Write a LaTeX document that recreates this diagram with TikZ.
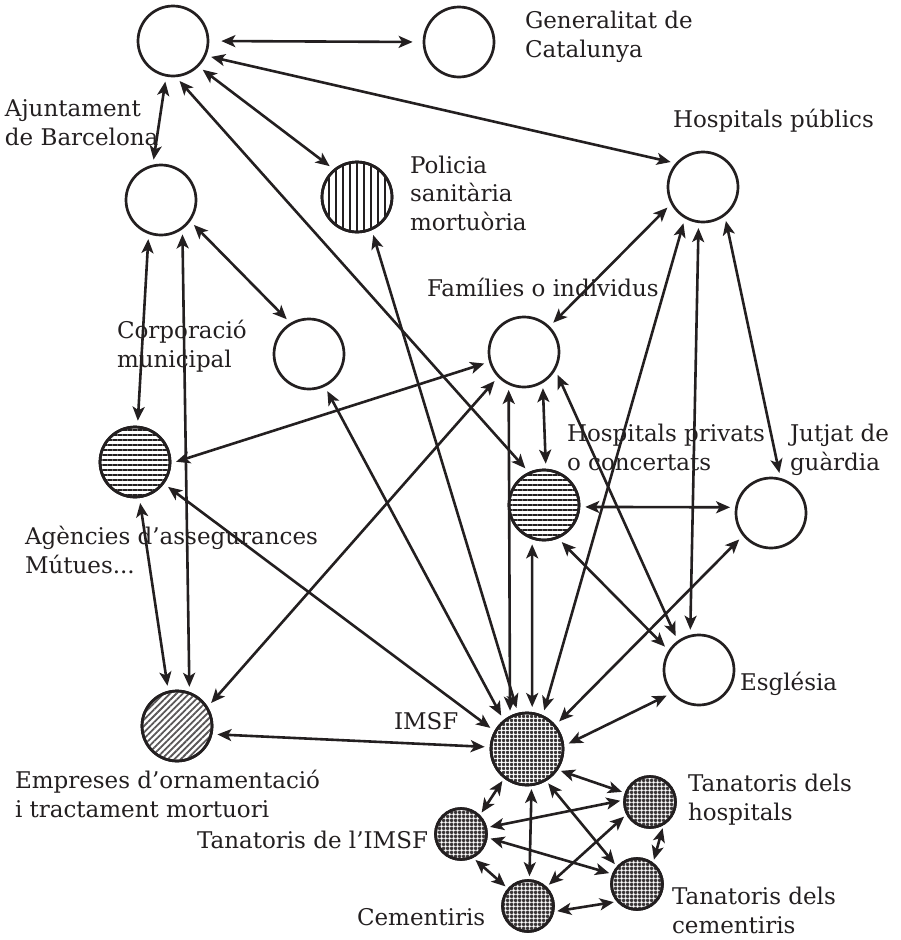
\documentclass[tikz,border=0pt]{standalone}
\usepackage{fontspec}
\setmainfont{DejaVu Serif}
\usetikzlibrary{arrows.meta,patterns.meta}
\definecolor{ink}{RGB}{35,31,32}
\begin{document}
\begin{tikzpicture}[x=1pt,y=-1pt,
  ent/.style={circle,draw=ink,line width=2.7pt,minimum size=70pt,inner sep=0pt,fill=white},
  sm/.style={ent,minimum size=51pt},
  vstr/.style={pattern={Lines[angle=90,distance=7pt,line width=2pt]},pattern color=ink},
  hstr/.style={pattern={Lines[angle=0,distance=5pt,line width=2.6pt]},pattern color=ink},
  dstr/.style={pattern={Lines[angle=45,distance=4.5pt,line width=1.8pt]},pattern color=ink!75},
  grid/.style={pattern={Hatch[angle=0,distance=4pt,line width=2.6pt]},pattern color=ink!90},
  lbl/.style={anchor=base west,inner sep=0pt,outer sep=0pt,align=left,
    font=\fontsize{23}{28.5}\selectfont,text=ink},
  rel/.style={<->,draw=ink,line width=2.6pt,shorten <=5pt,shorten >=5pt},
  srel/.style={rel,shorten <=3pt,shorten >=3pt},
  >={Stealth[length=14pt,width=12pt,inset=3.5pt]}
]
\useasboundingbox (0,0) rectangle (901,940);
% circles
\node[ent] (A) at (173,41) {};
\node[ent] (B) at (459,42) {};
\node[ent] (C) at (161,200) {};
\node[ent] (D) at (357,197) {};
\path[vstr] (D.center) circle[radius=35pt];
\node[ent] (E) at (703,187) {};
\node[ent] (F) at (309,354) {};
\node[ent] (G) at (524,352) {};
\node[ent] (H) at (135,462) {};
\path[hstr] (H.center) circle[radius=35pt];
\node[ent] (I) at (544,505) {};
\path[hstr] (I.center) circle[radius=35pt];
\node[ent] (J) at (771,513) {};
\node[ent] (K) at (699,670) {};
\node[ent] (L) at (177,726) {};
\path[dstr] (L.center) circle[radius=35pt];
\node[ent,minimum size=72pt] (M) at (527,749) {};
\path[grid] (M.center) circle[radius=36pt];
\node[sm] (N) at (650,802) {};
\path[grid] (N.center) circle[radius=25.5pt];
\node[sm] (O) at (461,834) {};
\path[grid] (O.center) circle[radius=25.5pt];
\node[sm] (P) at (528,906) {};
\path[grid] (P.center) circle[radius=25.5pt];
\node[sm] (Q) at (637,884) {};
\path[grid] (Q.center) circle[radius=25.5pt];
% redraw outlines over patterns
\foreach \n in {D,H,I,L}{\draw[ink,line width=2.7pt] (\n.center) circle[radius=35pt];}
\draw[ink,line width=2.7pt] (M.center) circle[radius=36pt];
\foreach \n in {N,O,P,Q}{\draw[ink,line width=2.7pt] (\n.center) circle[radius=25.5pt];}
% labels (anchor = baseline of the last line)
\node[lbl] (tB) at (525,57) {Generalitat de\\Catalunya};
\node[lbl] (tC) at (5,145) {Ajuntament\\de Barcelona};
\node[lbl] (tE) at (673,127) {Hospitals públics};
\node[lbl] (tD) at (410,230) {Policia\\sanitària\\mortuòria};
\node[lbl] (tG) at (427,296) {Famílies o individus};
\node[lbl] (tF) at (117,367) {Corporació\\municipal};
\node[lbl] (tI) at (567,470) {Hospitals privats\\o concertats};
\node[lbl] (tJ) at (790,470) {Jutjat de\\guàrdia};
\node[lbl] (tH) at (25,573) {Agències d’assegurances\\Mútues...};
\node[lbl] (tK) at (740,690) {Església};
\node[lbl] (tM) at (394,729) {IMSF};
\node[lbl] (tL) at (15,817) {Empreses d’ornamentació\\i tractament mortuori};
\node[lbl] (tN) at (688,820) {Tanatoris dels\\hospitals};
\node[lbl] (tO) at (197,848) {Tanatoris de l’IMSF};
\node[lbl] (tQ) at (672,933) {Tanatoris dels\\cementiris};
\node[lbl] (tP) at (357,925) {Cementiris};
% connectors
\draw[rel,shorten <=12pt,shorten >=10pt] (A.0) -- (B.180);
\draw[rel] (A.-24) -- (E.139);
\draw[rel] (A.-101) -- (C.103);
\draw[rel] (A.-45) -- (D.130);
\draw[rel] (A.-85) -- (I.115);
\draw[rel] (C.-110) -- (H.86);
\draw[rel] (C.-54) -- (L.70);
\draw[rel] (C.-36) -- (F.121);
\draw[rel] (H.-83) -- (L.104);
\draw[rel] (H.-2) -- (G.-164);
\draw[rel] (H.-37) -- (M.151);
\draw[rel] (F.-64) -- (M.129);
\draw[rel] (D.-66) -- (M.104);
\draw[rel] (G.-136) -- (L.32);
\draw[rel] (G.-115) -- (M.117);
\draw[rel] (G.-59) -- (I.87);
\draw[rel] (G.-30) -- (K.126);
\draw[rel] (G.45) -- (E.-152);
\draw[rel] (I.-109) -- (M.82);
\draw[rel] (I.-3) -- (J.171);
\draw[rel] (I.-67) -- (K.147);
\draw[rel] (E.-120) -- (M.65);
\draw[rel] (E.-97) -- (K.104);
\draw[rel] (E.-53) -- (J.75);
\draw[rel] (J.-141) -- (M.40);
\draw[rel] (K.-140) -- (M.5);
\draw[rel] (L.-13) -- (M.177);
\draw[srel] (M.-34) -- (N.160);
\draw[srel] (M.-128) -- (O.45);
\draw[srel] (M.-83) -- (P.87);
\draw[srel] (M.-59) -- (Q.139);
\draw[srel] (N.176) -- (O.14);
\draw[srel] (N.-152) -- (P.46);
\draw[srel] (N.-60) -- (Q.53);
\draw[srel] (O.-8) -- (Q.158);
\draw[srel] (O.-63) -- (P.139);
\draw[srel] (P.-12) -- (Q.-139);
\end{tikzpicture}
\end{document}
